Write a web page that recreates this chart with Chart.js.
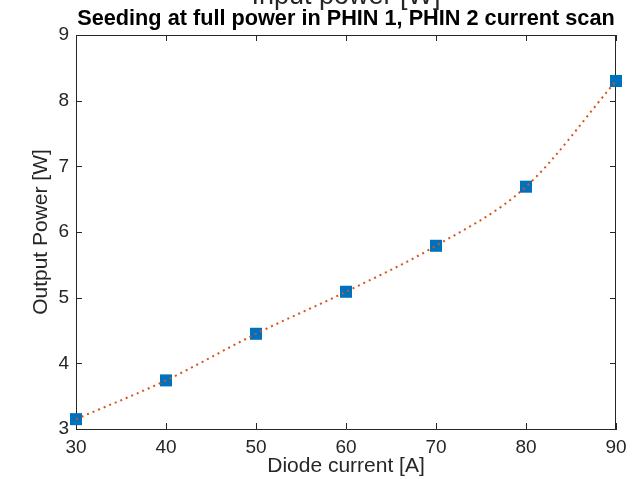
<!DOCTYPE html>
<html>
<head>
<meta charset="utf-8">
<script src="https://cdn.jsdelivr.net/npm/chart.js@4/dist/chart.umd.min.js"></script>
<style>
  html, body { margin: 0; padding: 0; background: #ffffff; }
  #wrap { width: 641px; height: 479px; }
</style>
</head>
<body>
<div id="wrap"><canvas id="c" width="641" height="479"></canvas></div>
<script>
// ---- data ----
const titleTop = 'Input power [W]';
const titleMain = 'Seeding at full power in PHIN 1, PHIN 2 current scan';
const xAxisLabel = 'Diode current [A]';
const yAxisLabel = 'Output Power [W]';
const diodeCurrent = [30, 40, 50, 60, 70, 80, 90];
const outputPower = [3.15, 3.74, 4.45, 5.09, 5.79, 6.69, 8.30];
const xTickValues = [30, 40, 50, 60, 70, 80, 90];
const yTickValues = [3, 4, 5, 6, 7, 8, 9];

const FONT = '"Liberation Sans", Arial, Helvetica, sans-serif';
const AXIS_COLOR = '#262626';

const pts = diodeCurrent.map((x, i) => ({ x: x, y: outputPower[i] }));

const boxAndTitle = {
  id: 'boxAndTitle',
  beforeDatasetsDraw(chart) {
    const { ctx, chartArea: a, scales } = chart;
    ctx.save();
    ctx.strokeStyle = AXIS_COLOR;
    ctx.lineWidth = 1;
    const tl = 6;
    ctx.beginPath();
    ctx.moveTo(a.left, a.top + 0.5); ctx.lineTo(a.right, a.top + 0.5);
    ctx.moveTo(a.right - 0.5, a.top); ctx.lineTo(a.right - 0.5, a.bottom);
    scales.x.ticks.forEach(t => {
      const px = Math.round(scales.x.getPixelForValue(t.value)) + 0.5;
      ctx.moveTo(px, a.bottom); ctx.lineTo(px, a.bottom - tl);
      ctx.moveTo(px, a.top); ctx.lineTo(px, a.top + tl);
    });
    scales.y.ticks.forEach(t => {
      const py = Math.round(scales.y.getPixelForValue(t.value)) + 0.5;
      ctx.moveTo(a.left, py); ctx.lineTo(a.left + tl, py);
      ctx.moveTo(a.right, py); ctx.lineTo(a.right - tl, py);
    });
    ctx.stroke();
    ctx.restore();
  },
  afterDraw(chart) {
    const { ctx, chartArea: a } = chart;
    const cx = (a.left + a.right) / 2;
    ctx.save();
    ctx.textAlign = 'center';
    ctx.textBaseline = 'alphabetic';
    ctx.font = '27px ' + FONT;
    ctx.fillStyle = AXIS_COLOR;
    ctx.fillText(titleTop, cx, 4);
    ctx.fillStyle = '#000000';
    ctx.font = 'bold 21.7px ' + FONT;
    ctx.fillText(titleMain, cx, 25);
    ctx.restore();
  }
};

new Chart(document.getElementById('c'), {
  type: 'scatter',
  data: {
    datasets: [
      {
        type: 'line',
        label: 'fit',
        data: pts,
        borderColor: '#D95319',
        borderWidth: 2,
        borderDash: [2, 4],
        pointRadius: 0,
        fill: false,
        cubicInterpolationMode: 'monotone',
        clip: false,
        order: 0
      },
      {
        label: 'data',
        data: pts,
        pointStyle: 'rect',
        pointRadius: 8.5,
        pointBackgroundColor: '#0072BD',
        pointBorderWidth: 0,
        pointBorderColor: '#0072BD',
        clip: false,
        order: 1
      }
    ]
  },
  options: {
    responsive: false,
    animation: false,
    devicePixelRatio: 1,
    layout: { padding: { top: 35, right: 25, left: 0, bottom: 0 } },
    plugins: {
      legend: { display: false },
      tooltip: { enabled: false },
      title: { display: false }
    },
    scales: {
      x: {
        type: 'linear',
        min: 30, max: 90,
        afterBuildTicks: s => { s.ticks = xTickValues.map(v => ({ value: v })); },
        afterFit: s => { s.height = 50; },
        grid: { drawOnChartArea: false, drawTicks: false },
        border: { color: AXIS_COLOR, width: 1 },
        ticks: { color: AXIS_COLOR, font: { family: FONT, size: 19 }, padding: 7, maxRotation: 0 },
        title: { display: true, text: xAxisLabel, color: AXIS_COLOR, font: { family: FONT, size: 21 }, padding: { top: 0, bottom: 0 } }
      },
      y: {
        type: 'linear',
        min: 3, max: 9,
        afterBuildTicks: s => { s.ticks = yTickValues.map(v => ({ value: v })); },
        afterFit: s => { s.width = 76; },
        grid: { drawOnChartArea: false, drawTicks: false },
        border: { color: AXIS_COLOR, width: 1 },
        ticks: { color: AXIS_COLOR, font: { family: FONT, size: 19 }, padding: 7 },
        title: { display: true, text: yAxisLabel, color: AXIS_COLOR, font: { family: FONT, size: 21 }, padding: { top: 29, bottom: 0 } }
      }
    }
  },
  plugins: [boxAndTitle]
});
</script>
</body>
</html>
